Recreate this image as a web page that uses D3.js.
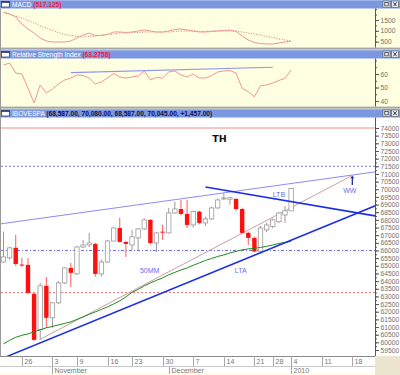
<!DOCTYPE html>
<html>
<head>
<meta charset="utf-8">
<script src="https://cdnjs.cloudflare.com/ajax/libs/d3/7.8.5/d3.min.js"></script>
<style>
  html, body { margin: 0; padding: 0; background: #fff; }
  svg { display: block; font-family: "Liberation Sans", Arial, sans-serif; }
</style>
</head>
<body>
<div id="chart"></div>
<script>
// Trading days on the x axis (the last ones are empty room on the right)
const days = [
  "2009-10-21", "2009-10-22", "2009-10-23", "2009-10-26", "2009-10-27", "2009-10-28", "2009-10-29", "2009-10-30",
  "2009-11-03", "2009-11-04", "2009-11-05", "2009-11-06", "2009-11-09", "2009-11-10", "2009-11-11", "2009-11-12",
  "2009-11-13", "2009-11-16", "2009-11-17", "2009-11-18", "2009-11-19", "2009-11-23", "2009-11-24", "2009-11-25",
  "2009-11-26", "2009-11-27", "2009-11-30", "2009-12-01", "2009-12-02", "2009-12-03", "2009-12-04", "2009-12-07",
  "2009-12-08", "2009-12-09", "2009-12-10", "2009-12-11", "2009-12-14", "2009-12-15", "2009-12-16", "2009-12-17",
  "2009-12-18", "2009-12-21", "2009-12-22", "2009-12-23", "2009-12-28", "2009-12-29", "2009-12-30", "2010-01-04",
  "2010-01-05", "2010-01-06", "2010-01-07", "2010-01-08", "2010-01-11", "2010-01-12", "2010-01-13", "2010-01-14",
  "2010-01-15", "2010-01-18", "2010-01-19", "2010-01-20", "2010-01-21", "2010-01-22",
];

// IBOVESPA daily OHLC
const opens = [65250, 65520, 66170, 65080, 65060, 63170, 60820, 63690, 61600, 62580, 63880, 64860, 64470, 66230, 66360, 66430,
  64470, 65250, 66620, 67470, 66560, 66360, 66820, 67410, 68000, 66490, 67230, 67150, 68450, 68710, 68390, 67670,
  68540, 67800, 68060, 68780, 69400, 69350, 69370, 68710, 67150, 66820, 65930, 67340, 67560, 67880, 68320, 68587];
const highs = [67230, 66250, 67020, 65520, 65500, 63230, 63880, 64280, 62600, 64000, 64900, 65190, 66300, 66690, 67150, 66500,
  65400, 66700, 67500, 68130, 66600, 67340, 67450, 68100, 68050, 67200, 67670, 68780, 69190, 69300, 69300, 68600,
  68600, 68200, 68850, 69400, 69760, 69500, 69400, 68800, 67230, 66900, 67600, 67800, 68100, 68500, 68900, 70080];
const lows = [65190, 65400, 65000, 64900, 63180, 60100, 60160, 60950, 60950, 62500, 63800, 63620, 64400, 66170, 66230, 64280,
  64300, 65200, 66600, 66500, 65580, 66040, 66040, 67350, 66400, 65910, 66690, 67100, 68400, 68300, 67470, 67500,
  67700, 67600, 68000, 68700, 69300, 69000, 68600, 67100, 66360, 65900, 65800, 67200, 67450, 67800, 67800, 68587];
const closes = [65580, 66170, 65120, 65050, 63230, 60160, 63690, 61600, 62580, 63880, 64860, 64540, 66230, 66360, 66490, 64470,
  65250, 66620, 67470, 66560, 66430, 66890, 67410, 68000, 66490, 67150, 67200, 68450, 68710, 68390, 67670, 68540,
  67800, 68060, 68780, 69300, 69430, 69450, 68710, 67150, 66820, 65930, 67470, 67670, 68000, 68450, 68588, 70045];

// 50-day moving average ("50MM")
const ma50 = [59900, 60130, 60330, 60460, 60550, 60690, 60820, 60950, 61040, 61140, 61240, 61340, 61500, 61660, 61830, 61990,
  62150, 62320, 62510, 62710, 62970, 63260, 63460, 63690, 63880, 64050, 64210, 64410, 64570, 64730, 64860, 65030,
  65190, 65350, 65480, 65610, 65710, 65840, 65940, 66040, 66100, 66140, 66200, 66270, 66360, 66460, 66530, 66590];

// MACD and its signal line
const macd = [1847, 1778, 1639, 1315, 1083, 898, 667, 528, 481, 481, 481, 528, 667, 806, 898, 782,
  782, 829, 944, 944, 921, 944, 991, 1037, 991, 944, 944, 991, 1060, 1083, 1037, 991,
  944, 944, 968, 991, 1014, 1037, 968, 759, 574, 458, 412, 389, 389, 435, 481, 517];
const macdSignal = [1847, 1778, 1685, 1593, 1477, 1361, 1222, 1130, 1014, 921, 829, 782, 736, 713, 736, 759,
  806, 829, 852, 898, 898, 921, 921, 944, 944, 944, 944, 944, 968, 991, 991, 991,
  968, 968, 991, 991, 991, 991, 991, 944, 898, 852, 806, 736, 690, 620, 574, 528];

// Relative Strength Index
const rsi = [66.7, 68.1, 60.7, 60.0, 49.6, 38.5, 51.9, 45.9, 48.9, 52.6, 55.6, 57.0, 59.3, 58.9, 57.0, 52.6,
  54.1, 57.0, 60.4, 57.8, 57.0, 57.8, 58.5, 62.2, 55.6, 57.4, 57.0, 61.5, 62.2, 59.3, 57.8, 60.0,
  57.0, 57.0, 58.9, 61.5, 62.2, 62.6, 60.7, 49.3, 46.9, 43.2, 51.3, 51.9, 53.3, 55.2, 56.8, 63.0];
const rsiTrend = [[11, 61], [44, 65]];

// Drawn lines on the price panel: [day index, price]
const channelTop = [[-1, 67710], [61, 71150]];
const riseLine = [[6, 60200], [57, 70900]];
const ltaLine = [[-1, 58820], [61, 68960]];
const ltbLine = [[33, 70140], [61, 68240]];
const levels = [74000, 71500, 66000, 63250];

// Notes on the price panel: text and [day index, price]
const noteText = ["TH", "50MM", "LTA", "LTB", "WW"];
const noteAt = [[34.1, 73090], [22.3, 64540], [37.8, 64540], [44.0, 69500], [55.5, 69760]];
const arrowAt = [[57.0, 70280], [57.0, 70880]];

// Axis ticks and labels
const priceTicks = d3.range(59500, 74001, 500);
const macdTicks = [500, 1000, 1500];
const rsiTicks = [40, 50, 60];
const weekTicks = ["2009-10-26", "2009-11-03", "2009-11-09", "2009-11-16", "2009-11-23", "2009-11-30", "2009-12-07",
  "2009-12-14", "2009-12-21", "2009-12-28", "2010-01-04", "2010-01-11", "2010-01-18"];
const monthStarts = ["2009-11-03", "2009-12-01", "2010-01-04"];
const monthLabels = ["November", "December", "2010"];
const titles = {
  macd: ["MACD", "(517.125)"],
  rsi: ["Relative Strength Index", "(63.2758)"],
  main: ["IBOVESPA", "(68,587.00, 70,080.00, 68,587.00, 70,045.00, +1,457.00)"],
};

const W = 400, H = 375;
const axisX = 375;
const font = '"Liberation Sans", Arial, sans-serif';

const svg = d3.select("#chart").append("svg").attr("width", W).attr("height", H);
svg.append("rect").attr("width", W).attr("height", H).attr("fill", "#fff");

// Panel layout
const panels = {
  macd: { bar: 0, top: 8.5, bottom: 47.5, fill: "#ffffe1", valueColor: "#ee2244" },
  rsi: { bar: 50, top: 58.5, bottom: 106.5, fill: "#ffffe1", valueColor: "#ee2244" },
  main: { bar: 109, top: 117.5, bottom: 356, fill: "#ffffff", valueColor: "#101050" },
};

// Scales
const x = d3.scaleLinear().domain([0, days.length - 1]).range([3.5, 376.8]);
const yMain = d3.scaleLinear().domain([59500, 74000]).range([350, 128]);
const yMacd = d3.scaleLinear().domain([500, 1500]).range([41.6, 20]);
const yRsi = d3.scaleLinear().domain([40, 60]).range([101, 74]);

// Separators between panels
[[47.5, 50], [106.5, 109]].forEach(([a, b]) => {
  svg.append("rect").attr("x", 0).attr("y", a).attr("width", W).attr("height", b - a).attr("fill", "#c4c4c4");
  svg.append("line").attr("x1", 0).attr("x2", W).attr("y1", a + 0.5).attr("y2", a + 0.5).attr("stroke", "#8a8a8a");
});

Object.entries(panels).forEach(([key, p]) => {
  svg.append("rect").attr("x", 0).attr("y", p.top).attr("width", W).attr("height", p.bottom - p.top).attr("fill", p.fill);

  // Title bar
  svg.append("rect").attr("x", 0).attr("y", p.bar).attr("width", W).attr("height", p.top - p.bar).attr("fill", "#7b97df");
  svg.append("rect").attr("x", 0).attr("y", p.bar).attr("width", W).attr("height", 1).attr("fill", "#9db3ea");
  svg.append("rect").attr("x", 1.5).attr("y", p.bar + 1.5).attr("width", 8).attr("height", 5.5)
    .attr("fill", "#fff").attr("stroke", "#1e2a60").attr("stroke-width", 0.7);
  svg.append("rect").attr("x", 1.5).attr("y", p.bar + 1.5).attr("width", 8).attr("height", 1.3).attr("fill", "#1e2a60");

  const title = svg.append("text").attr("x", 12).attr("y", p.bar + 6.8)
    .attr("font-size", "6.6px").attr("font-family", font);
  title.append("tspan").attr("fill", "#fff").text(titles[key][0] + " ");
  title.append("tspan").attr("fill", p.valueColor).attr("font-weight", "bold").text(titles[key][1]);

  // Window buttons
  [383, 391.5].forEach((bx, k) => {
    svg.append("rect").attr("x", bx).attr("y", p.bar + 1).attr("width", 7).attr("height", 6.5)
      .attr("fill", "#eeeeee").attr("stroke", "#555").attr("stroke-width", 0.6);
    if (k === 0) {
      svg.append("rect").attr("x", bx + 1.8).attr("y", p.bar + 2.5).attr("width", 3.4).attr("height", 3.4)
        .attr("fill", "none").attr("stroke", "#222").attr("stroke-width", 0.7);
    } else {
      svg.append("path").attr("d", `M${bx + 1.8},${p.bar + 2.3}L${bx + 5.2},${p.bar + 6.2}M${bx + 5.2},${p.bar + 2.3}L${bx + 1.8},${p.bar + 6.2}`)
        .attr("stroke", "#222").attr("stroke-width", 0.9);
    }
  });

  svg.append("clipPath").attr("id", `clip-${key}`).append("rect")
    .attr("x", 1).attr("y", p.top).attr("width", axisX - 1).attr("height", p.bottom - p.top);
});

// Left frame line
svg.append("line").attr("x1", 0.5).attr("x2", 0.5).attr("y1", 8.5).attr("y2", 366)
  .attr("stroke", "#9a9a9a");

// ----- MACD panel -----
const macdG = svg.append("g").attr("clip-path", "url(#clip-macd)");
const macdLine = (values) => d3.line().x((d, i) => x(i)).y((d) => yMacd(d))(values);
macdG.append("path").attr("d", macdLine(macdSignal)).attr("fill", "none")
  .attr("stroke", "#c77a7a").attr("stroke-width", 1).attr("stroke-dasharray", "1,1.6");
macdG.append("path").attr("d", macdLine(macd)).attr("fill", "none")
  .attr("stroke", "#f39494").attr("stroke-width", 1);

// ----- RSI panel -----
const rsiG = svg.append("g").attr("clip-path", "url(#clip-rsi)");
rsiG.append("path").attr("d", d3.line().x((d) => x(d[0])).y((d) => yRsi(d[1]))(rsiTrend))
  .attr("fill", "none").attr("stroke", "#8c96ee").attr("stroke-width", 1.2);
rsiG.append("path").attr("d", d3.line().x((d, i) => x(i)).y((d) => yRsi(d))(rsi))
  .attr("fill", "none").attr("stroke", "#f39494").attr("stroke-width", 1);

// ----- Price panel -----
const mainG = svg.append("g").attr("clip-path", "url(#clip-main)");
const pLine = d3.line().x((d) => x(d[0])).y((d) => yMain(d[1]));

const levelStyles = [
  { color: "#f08a8a", dash: "none" },
  { color: "#7a7af0", dash: "2,2" },
  { color: "#6a6ae6", dash: "3,2,1,2" },
  { color: "#e87070", dash: "2,2" },
];
levels.forEach((v, k) => {
  mainG.append("line").attr("x1", 1).attr("x2", axisX).attr("y1", yMain(v)).attr("y2", yMain(v))
    .attr("stroke", levelStyles[k].color).attr("stroke-width", 1).attr("stroke-dasharray", levelStyles[k].dash);
});

mainG.append("path").attr("d", pLine(channelTop)).attr("fill", "none").attr("stroke", "#8a8cf2").attr("stroke-width", 1);
mainG.append("path").attr("d", pLine(riseLine)).attr("fill", "none").attr("stroke", "#c9a0a0").attr("stroke-width", 1);

// Candles
const candles = opens.map((o, i) => ({ i, o, h: highs[i], l: lows[i], c: closes[i], up: closes[i] >= o }));
const bw = 4.4;
const cg = mainG.append("g");
cg.selectAll("line.wick").data(candles).join("line")
  .attr("class", "wick")
  .attr("x1", (d) => x(d.i)).attr("x2", (d) => x(d.i))
  .attr("y1", (d) => yMain(d.h)).attr("y2", (d) => yMain(d.l))
  .attr("stroke", (d) => (d.up ? "#9a9a9a" : "#ff5a5a")).attr("stroke-width", 1);
cg.selectAll("rect.body").data(candles).join("rect")
  .attr("class", "body")
  .attr("x", (d) => x(d.i) - bw / 2)
  .attr("y", (d) => yMain(Math.max(d.o, d.c)))
  .attr("width", bw)
  .attr("height", (d) => Math.max(1, Math.abs(yMain(d.o) - yMain(d.c))))
  .attr("fill", (d) => (d.up ? "#ffffff" : "#ff1010"))
  .attr("stroke", (d) => (d.up ? "#9a9a9a" : "none"))
  .attr("stroke-width", 0.8);

// Moving average and trend lines over the candles
mainG.append("path").attr("d", d3.line().x((d, i) => x(i)).y((d) => yMain(d))(ma50))
  .attr("fill", "none").attr("stroke", "#1f8a1f").attr("stroke-width", 1);
mainG.append("path").attr("d", pLine(ltaLine)).attr("fill", "none").attr("stroke", "#1a2ee6").attr("stroke-width", 1.5);
mainG.append("path").attr("d", pLine(ltbLine)).attr("fill", "none").attr("stroke", "#1a2ee6").attr("stroke-width", 1.5);

// Notes
noteText.forEach((t, k) => {
  const isTitle = t === "TH";
  mainG.append("text")
    .attr("x", x(noteAt[k][0])).attr("y", yMain(noteAt[k][1]))
    .attr("font-family", isTitle ? '"DejaVu Sans", sans-serif' : font)
    .attr("font-size", isTitle ? "9.5px" : "7px")
    .attr("font-weight", isTitle ? "bold" : "normal")
    .attr("fill", isTitle ? "#111" : "#6e6ee8")
    .text(t);
});
const ax = x(arrowAt[0][0]), ay0 = yMain(arrowAt[0][1]), ay1 = yMain(arrowAt[1][1]);
mainG.append("line").attr("x1", ax).attr("x2", ax).attr("y1", ay0).attr("y2", ay1 + 2)
  .attr("stroke", "#1a2aa0").attr("stroke-width", 1.3);
mainG.append("path").attr("d", `M${ax - 2},${ay1 + 2.5}L${ax},${ay1}L${ax + 2},${ay1 + 2.5}Z`).attr("fill", "#1a2aa0");

// ----- Right value axes -----
function styleAxis(g) {
  g.select(".domain").attr("stroke", "#555");
  g.selectAll(".tick line").attr("stroke", "#555");
  g.selectAll(".tick text").attr("fill", "#707070").attr("font-size", "6.7px").attr("font-family", font);
}
function valueAxis(scale, major, minor, p) {
  const g = svg.append("g").attr("transform", `translate(${axisX},0)`);
  g.append("g").call(d3.axisRight(scale).tickValues(minor).tickSize(2).tickFormat("")).call(styleAxis)
    .select(".domain").remove();
  g.append("g").call(d3.axisRight(scale).tickValues(major).tickSize(4).tickPadding(1.5).tickSizeOuter(0).tickFormat(d3.format("d")))
    .call(styleAxis).select(".domain").remove();
  g.append("line").attr("x1", 0.5).attr("x2", 0.5).attr("y1", p.top).attr("y2", p.bottom).attr("stroke", "#555");
}
valueAxis(yMain, priceTicks, d3.range(59500, 74250, 250), panels.main);
valueAxis(yMacd, macdTicks, d3.range(250, 2001, 250).filter((v) => yMacd(v) > 9 && yMacd(v) < 47), panels.macd);
valueAxis(yRsi, rsiTicks, d3.range(35, 71, 5).filter((v) => yRsi(v) > 59 && yRsi(v) < 106), panels.rsi);

// ----- Date axis -----
const dateTop = 356, dateRow = 366, dateBottom = 375;
svg.append("rect").attr("x", 0).attr("y", dateTop).attr("width", W).attr("height", dateBottom - dateTop).attr("fill", "#fff");
svg.append("rect").attr("x", 0).attr("y", 373.5).attr("width", W).attr("height", 1.5).attr("fill", "#fffbe6");
svg.append("line").attr("x1", 0).attr("x2", axisX).attr("y1", dateTop + 0.5).attr("y2", dateTop + 0.5).attr("stroke", "#8a8a8a");
svg.append("line").attr("x1", 0).attr("x2", axisX).attr("y1", dateRow + 0.5).attr("y2", dateRow + 0.5).attr("stroke", "#c8c8c8");

weekTicks.forEach((d) => {
  const px = Math.round(x(days.indexOf(d))) + 0.5;
  svg.append("line").attr("x1", px).attr("x2", px).attr("y1", dateTop).attr("y2", dateRow)
    .attr("stroke", "#a8a8a8");
  svg.append("text").attr("x", px + 2).attr("y", dateRow - 2.2)
    .attr("font-size", "7px").attr("font-family", font).attr("fill", "#777")
    .text(+d.slice(8));
});
monthStarts.forEach((d, k) => {
  const px = Math.round(x(days.indexOf(d))) + 0.5;
  svg.append("line").attr("x1", px).attr("x2", px).attr("y1", dateRow).attr("y2", dateBottom - 1)
    .attr("stroke", "#a8a8a8");
  svg.append("text").attr("x", px + 2).attr("y", dateBottom - 2.4)
    .attr("font-size", "7px").attr("font-family", font).attr("fill", "#777")
    .text(monthLabels[k]);
});

// Corner block under the value axis
svg.append("rect").attr("x", axisX).attr("y", dateTop).attr("width", W - axisX).attr("height", dateBottom - dateTop)
  .attr("fill", "#ece5cf");
</script>
</body>
</html>
